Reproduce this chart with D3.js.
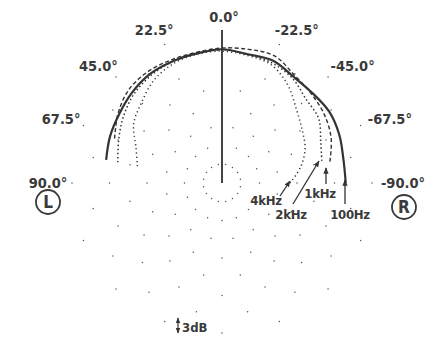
<!DOCTYPE html>
<html>
<head>
<meta charset="utf-8">
<script src="https://cdn.jsdelivr.net/npm/d3@7"></script>
<style>
  body { margin: 0; background: #fff; }
  svg { display: block; }
  text { font-family: "DejaVu Sans Condensed", "DejaVu Sans", sans-serif; font-weight: bold; fill: #3a3a3a; }
</style>
</head>
<body>
<svg id="chart" width="447" height="339"></svg>
<script>
// angles in degrees, positive = left (L), negative = right (R)
const angles = [90, 78.75, 67.5, 56.25, 45, 33.75, 22.5, 11.25, 0, -11.25, -22.5, -33.75, -45, -56.25, -67.5, -78.75, -90];

// relative level in dB
const db100Hz = [null, -5.1, -4.6, -4.2, -3.6, -3.1, -3.0, -2.9, -2.6, -3.0, -2.8, -3.5, -3.6, -3.4, -3.7, -4.2, -4.2];
const db1kHz  = [null, null, -5.4, -4.0, -2.9, -2.6, -2.7, -2.7, -2.4, -2.2, -2.0, -3.2, -3.8, -4.3, -5.1, -6.4, null];
const db2kHz  = [null, -7.0, -6.1, -5.0, -4.0, -3.4, -3.0, -2.9, -2.7, -3.0, -3.2, -3.8, -5.0, -5.4, -6.9, -7.7, null];
const db4kHz  = [null, -10.2, -9.1, -7.0, -5.8, -4.3, -3.4, -3.0, -2.9, -3.2, -3.5, -5.1, -7.2, -8.6, -9.6, -11.2, -13.1];

const labelAngles = [90, 67.5, 45, 22.5, 0, -22.5, -45, -67.5, -90];
const angleLabels = ["90.0°", "67.5°", "45.0°", "22.5°", "0.0°", "-22.5°", "-45.0°", "-67.5°", "-90.0°"];
const gridDb = [0, -3, -6, -9, -12, -15, -18, -21];

const series = [
    { name: "100Hz", values: db100Hz, width: 2.2, dash: null },
    { name: "1kHz",  values: db1kHz,  width: 1.4, dash: "4 2.5" },
    { name: "2kHz",  values: db2kHz,  width: 1.5, dash: "1.5 2.5" },
    { name: "4kHz",  values: db4kHz,  width: 1.5, dash: "1.2 3" }
];

const cx = 222, cy = 183;
const svg = d3.select("#chart");
const g = svg.append("g").attr("transform", `translate(${cx},${cy})`);

const r = d3.scaleLinear().domain([-24, 0]).range([0, 150]);
const a = d3.scaleLinear().domain([90, -90]).range([-Math.PI / 2, Math.PI / 2]);

// sparse dotted grid
gridDb.forEach((d, i) => {
    const step = 22.5;
    const pts = d3.range(0, 360, step).map(t => t + (i % 2 ? step / 2 : 0));
    g.append("g").selectAll("circle")
        .data(pts)
        .enter().append("circle")
        .attr("cx", t => r(d) * Math.sin(a(t)))
        .attr("cy", t => -r(d) * Math.cos(a(t)))
        .attr("r", 0.75)
        .attr("fill", "#555");
});

// 0 degree axis
g.append("line")
    .attr("x1", 0).attr("y1", 0)
    .attr("x2", 0).attr("y2", -r(0.5))
    .attr("stroke", "#444")
    .attr("stroke-width", 2);

// curves
const line = d3.lineRadial()
    .defined(d => d.db !== null)
    .angle(d => a(d.angle))
    .radius(d => r(d.db))
    .curve(d3.curveCatmullRom);

series.forEach(s => {
    const pts = angles.map((t, i) => ({ angle: t, db: s.values[i] }));
    g.append("path")
        .attr("d", line(pts))
        .attr("fill", "none")
        .attr("stroke", "#333")
        .attr("stroke-width", s.width)
        .attr("stroke-dasharray", s.dash);
});

// angle labels
g.append("g").selectAll("text")
    .data(labelAngles)
    .enter().append("text")
    .attr("x", t => 172 * Math.sin(a(t)) + (t < 0 ? 9 : t === 0 ? 2 : -2))
    .attr("y", t => -166 * Math.cos(a(t)) + 5)
    .attr("text-anchor", "middle")
    .attr("font-size", 14.5)
    .text((t, i) => angleLabels[i]);

// L / R markers
[{ t: "L", x: -174, y: 19 }, { t: "R", x: 182, y: 24 }].forEach(m => {
    g.append("circle").attr("cx", m.x).attr("cy", m.y).attr("r", 12)
        .attr("fill", "none").attr("stroke", "#3a3a3a").attr("stroke-width", 1.8);
    g.append("text").attr("x", m.x).attr("y", m.y + 6)
        .attr("text-anchor", "middle").attr("font-size", 17).attr("font-weight", "normal")
        .text(m.t);
});

// frequency callouts with arrows
svg.append("defs").append("marker")
    .attr("id", "arrow")
    .attr("viewBox", "0 -5 10 10")
    .attr("refX", 9).attr("refY", 0)
    .attr("markerWidth", 5).attr("markerHeight", 7)
    .attr("orient", "auto-start-reverse")
    .append("path").attr("d", "M0,-4L10,0L0,4").attr("fill", "#333");

const callouts = [
    { name: "4kHz",  tx: 266, ty: 205, x1: 280, y1: 196, x2: 290, y2: 181 },
    { name: "2kHz",  tx: 291, ty: 219, x1: 293, y1: 204, x2: 319, y2: 161 },
    { name: "1kHz",  tx: 320, ty: 198, x1: 326, y1: 184, x2: 326, y2: 168 },
    { name: "100Hz", tx: 350, ty: 219, x1: 345, y1: 204, x2: 345, y2: 180 }
];
callouts.forEach(c => {
    svg.append("line")
        .attr("x1", c.x1).attr("y1", c.y1).attr("x2", c.x2).attr("y2", c.y2)
        .attr("stroke", "#333").attr("stroke-width", 1.3)
        .attr("marker-end", "url(#arrow)");
    svg.append("text").attr("x", c.tx).attr("y", c.ty)
        .attr("text-anchor", "middle").attr("font-size", 13)
        .attr("letter-spacing", -0.3)
        .text(c.name);
});

// 3 dB scale mark
svg.append("line")
    .attr("x1", 178).attr("y1", 318).attr("x2", 178).attr("y2", 333)
    .attr("stroke", "#333").attr("stroke-width", 1.2)
    .attr("marker-end", "url(#arrow)").attr("marker-start", "url(#arrow)");
svg.append("text").attr("x", 182).attr("y", 332).attr("font-size", 13).text("3dB");
</script>
</body>
</html>
